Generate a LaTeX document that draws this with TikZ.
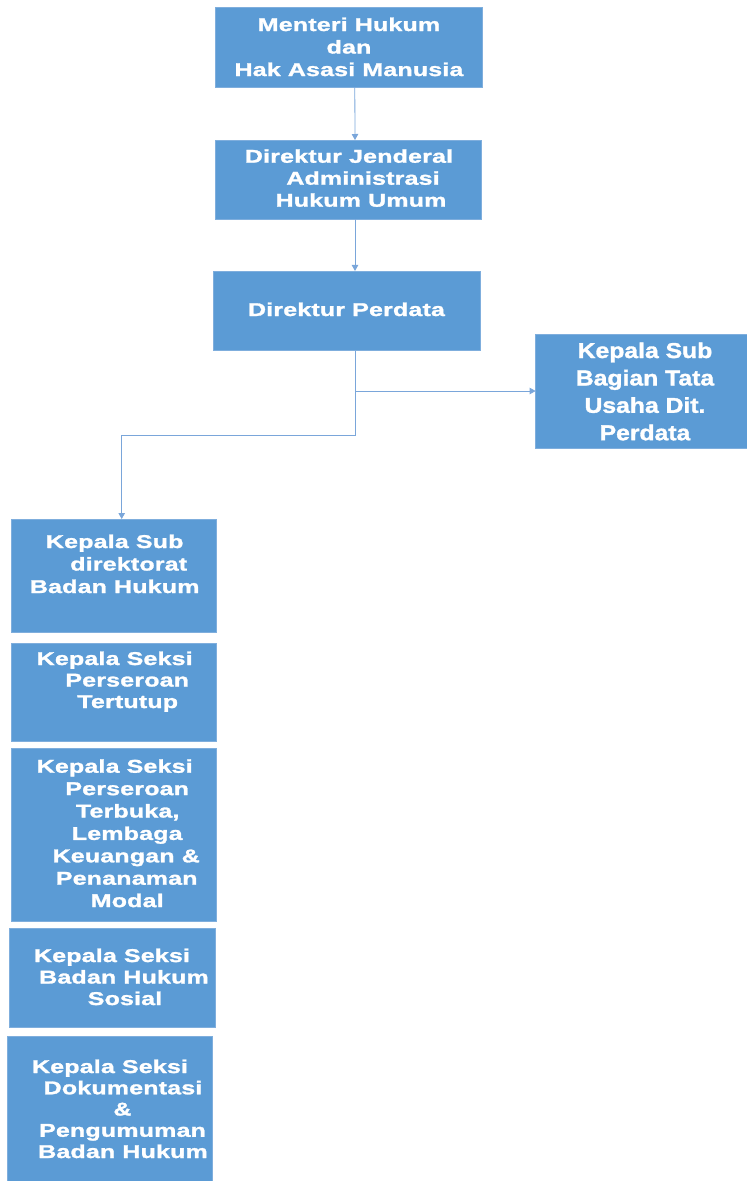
\documentclass[tikz,border=0pt]{standalone}
\usepackage{fontspec}
\newfontfamily\boxfont{Liberation Sans}[FakeStretch=1.35,LetterSpace=1,FakeBold=1.5]
\newfontfamily\sidefont{Liberation Sans}[FakeStretch=1.15,FakeBold=1.5]
\usetikzlibrary{arrows.meta}
\definecolor{boxblue}{HTML}{5B9BD5}
\definecolor{boxedge}{HTML}{7FAEDD}
\definecolor{linkblue}{HTML}{7AA6DA}
\newcommand\rowlines[1]{\begin{tabular}[t]{@{}c@{}}#1\end{tabular}}
\tikzset{
  orgbox/.style={rectangle, fill=boxblue, draw=boxedge, line width=0.8pt, inner sep=0pt, outer sep=0pt},
  orgtext/.style={anchor=base, inner sep=0pt, text=white, font=\boxfont\bfseries\fontsize{18.5}{#1}\selectfont},
  orgtext/.default=22,
  sidetext/.style={anchor=base, inner sep=0pt, text=white, font=\sidefont\bfseries\fontsize{21.5}{27.4}\selectfont},
  link/.style={draw=linkblue, line width=0.8pt, -{Triangle[width=6.5pt,length=6pt]}},
}
\begin{document}
\begin{tikzpicture}[x=1pt,y=-1pt]
\useasboundingbox (0,0) rectangle (747,1181);
% boxes
\node[orgbox, minimum width=267pt, minimum height=80pt] (b1) at (348.5,47.3) {};
\node[orgbox, minimum width=266.7pt, minimum height=79pt] (b2) at (348.3,179.5) {};
\node[orgbox, minimum width=267pt, minimum height=79.7pt] (b3) at (346.5,310.8) {};
\node[orgbox, minimum width=212.4pt, minimum height=114pt] (b4) at (641.8,391) {};
\node[orgbox, minimum width=205pt, minimum height=113pt] (b5) at (114.2,575.5) {};
\node[orgbox, minimum width=205pt, minimum height=98pt] (b6) at (114.2,692) {};
\node[orgbox, minimum width=205pt, minimum height=173pt] (b7) at (114.2,834.5) {};
\node[orgbox, minimum width=206pt, minimum height=99pt] (b8) at (112,977.5) {};
\node[orgbox, minimum width=205.4pt, minimum height=147pt] (b9) at (110,1109.5) {};
% texts
\node[orgtext=22.5] (t1) at (349,31) {\rowlines{Menteri Hukum\\ dan\\ Hak Asasi Manusia}};
\node[orgtext=22] (t2) at (349,162.7) {\rowlines{Direktur Jenderal\\ \hspace*{28pt}Administrasi\\ \hspace*{24pt}Hukum Umum}};
\node[orgtext] (t3) at (346.5,316) {\rowlines{Direktur Perdata}};
\node[sidetext] (t4) at (645,358) {\rowlines{Kepala Sub\\ Bagian Tata\\ Usaha Dit.\\ Perdata}};
\node[orgtext=22.5] (t5) at (114.7,548) {\rowlines{Kepala Sub\\ \hspace*{28pt}direktorat\\ Badan Hukum}};
\node[orgtext=21.5] (t6) at (114.7,665) {\rowlines{Kepala Seksi\\ \hspace*{25pt}Perseroan\\ \hspace*{26pt}Tertutup}};
\node[orgtext=22.4] (t7) at (114.7,772.7) {\rowlines{Kepala Seksi\\ \hspace*{25pt}Perseroan\\ \hspace*{26pt}Terbuka,\\ \hspace*{25pt}Lembaga\\ \hspace*{23pt}Keuangan \&\\ \hspace*{24pt}Penanaman\\ \hspace*{25pt}Modal}};
\node[orgtext=21.5] (t8) at (112,962) {\rowlines{Kepala Seksi\\ \hspace*{24pt}Badan Hukum\\ \hspace*{26pt}Sosial}};
\node[orgtext=21.25] (t9) at (110,1073) {\rowlines{Kepala Seksi\\ \hspace*{26pt}Dokumentasi\\ \hspace*{25pt}\&\\ \hspace*{25pt}Pengumuman\\ \hspace*{26pt}Badan Hukum}};
% connectors
\coordinate (j1) at (355,435.5);
\coordinate (j2) at (355,391);
\draw[link] ([xshift=6.3pt]b1.south) -- ([xshift=6.7pt]b2.north);
\draw[link] ([xshift=6.7pt]b2.south) -- ([xshift=8.5pt]b3.north);
\draw[link] ([xshift=8.5pt]b3.south) -- (j1) -| ([xshift=7.5pt]b5.north);
\draw[link] (j2) -- (b4.west);
\end{tikzpicture}
\end{document}
